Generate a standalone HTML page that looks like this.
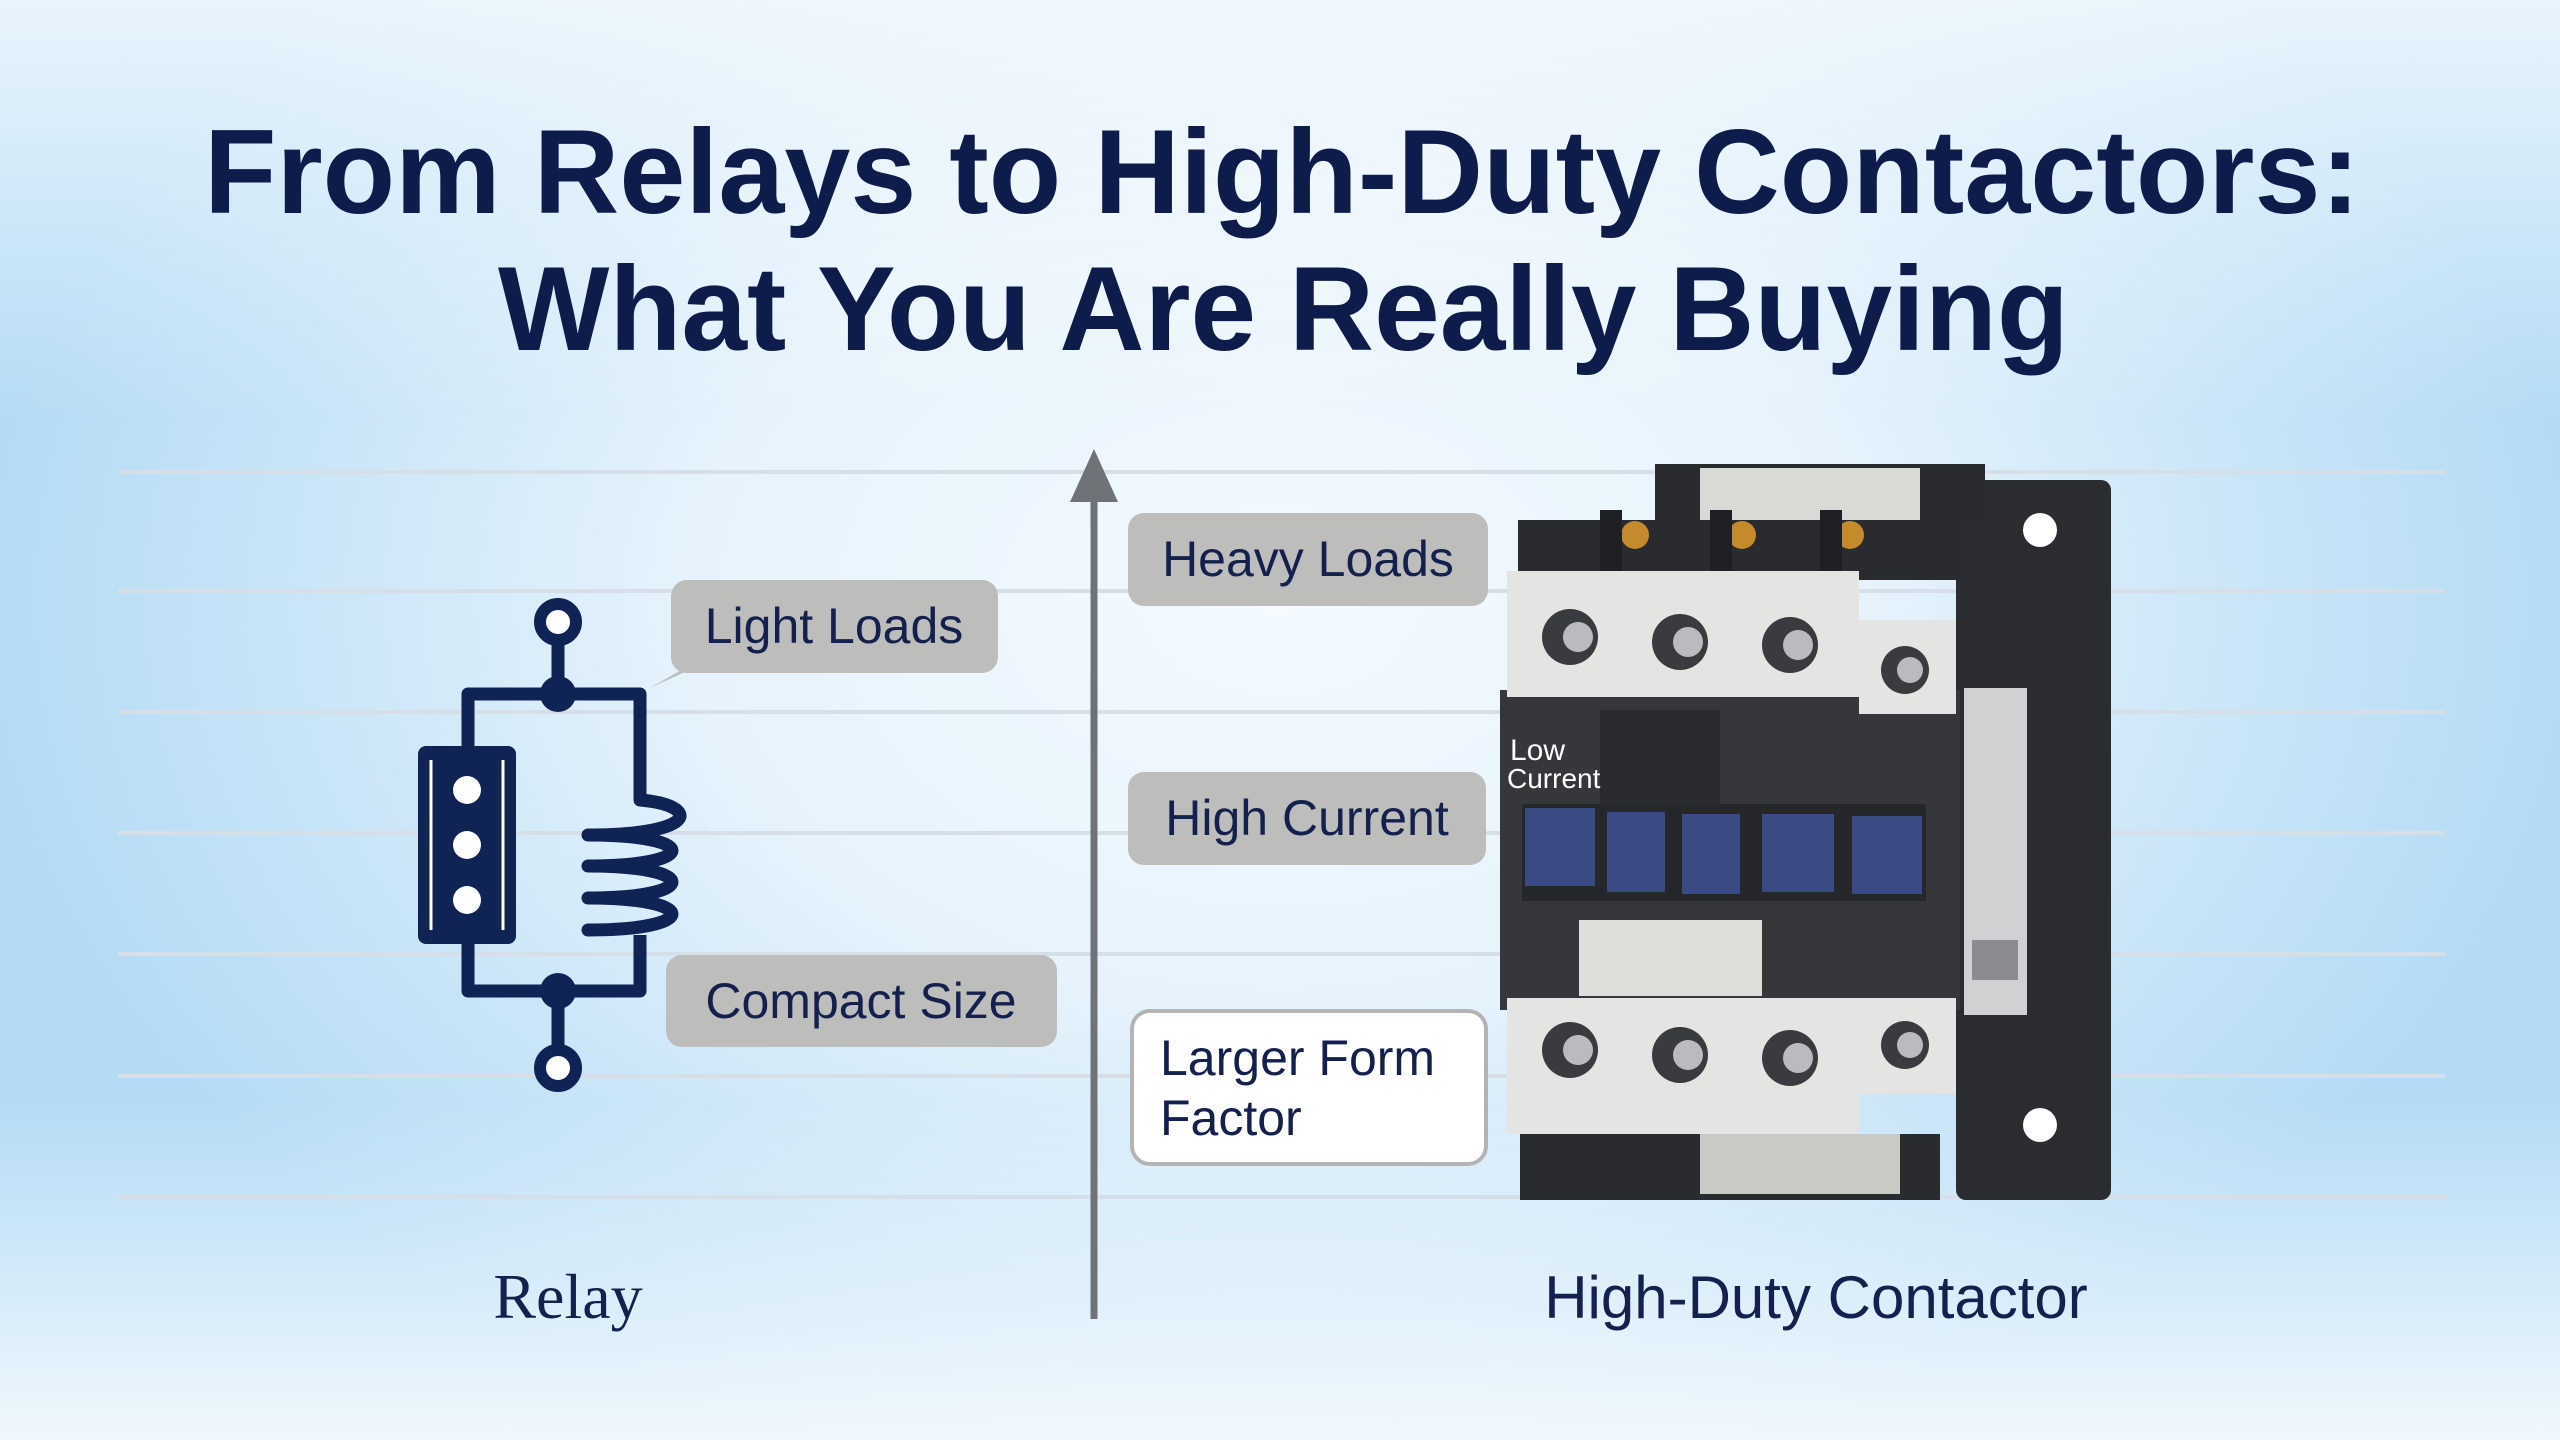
<!DOCTYPE html>
<html><head><meta charset="utf-8"><style>
html,body{margin:0;padding:0;width:2560px;height:1440px;overflow:hidden}
body{background:radial-gradient(ellipse 1300px 900px at 1280px 600px,#f4faff 0%,#e6f3fc 45%,#c5e3f7 80%,#b4dbf5 100%)}
svg{position:absolute;left:0;top:0}
</style></head><body>
<svg width="2560" height="1440" viewBox="0 0 2560 1440" xmlns="http://www.w3.org/2000/svg">
<defs>
<linearGradient id="tg" x1="0" y1="0" x2="0" y2="1"><stop offset="0" stop-color="#ffffff" stop-opacity="0.7"/><stop offset="1" stop-color="#ffffff" stop-opacity="0"/></linearGradient>
<linearGradient id="bg2" x1="0" y1="0" x2="0" y2="1"><stop offset="0" stop-color="#ffffff" stop-opacity="0"/><stop offset="1" stop-color="#ffffff" stop-opacity="0.8"/></linearGradient>
</defs>
<rect x="0" y="0" width="2560" height="420" fill="url(#tg)"/>
<rect x="0" y="1100" width="2560" height="340" fill="url(#bg2)"/>
<g font-family="Liberation Sans, sans-serif" font-weight="bold" fill="#0e1c4c" font-size="120">
<text x="204" y="213" textLength="2156" lengthAdjust="spacingAndGlyphs">From Relays to High-Duty Contactors:</text>
<text x="498" y="350" textLength="1571" lengthAdjust="spacingAndGlyphs">What You Are Really Buying</text>
</g>
<g stroke="#d6dfe8" stroke-width="4">
<line x1="118" y1="472" x2="2445" y2="472"/><line x1="118" y1="591" x2="2445" y2="591"/>
<line x1="118" y1="712" x2="2445" y2="712"/><line x1="118" y1="833" x2="2445" y2="833"/>
<line x1="118" y1="954" x2="2445" y2="954"/><line x1="118" y1="1076" x2="2445" y2="1076"/>
<line x1="118" y1="1197" x2="2445" y2="1197"/>
</g>
<line x1="1094" y1="1319" x2="1094" y2="490" stroke="#6f7378" stroke-width="7"/>
<polygon points="1094,449 1070,502 1118,502" fill="#6f7378"/>
<g stroke="#0f2354" stroke-width="13" fill="none" stroke-linejoin="round">
<line x1="558" y1="642" x2="558" y2="694"/>
<line x1="558" y1="991" x2="558" y2="1048"/>
<path d="M468,746 V694 H640 V800"/>
<path d="M468,944 V991 H640 V935"/>
<path d="M640,800 C700,805 700,835 588,835 C700,835 700,866 588,866 C700,866 700,898 588,898 C700,898 700,930 588,930" stroke-linecap="round"/>
</g>
<circle cx="558" cy="622" r="18" fill="#fff" stroke="#0f2354" stroke-width="12"/>
<circle cx="558" cy="1068" r="18" fill="#fff" stroke="#0f2354" stroke-width="12"/>
<circle cx="558" cy="694" r="18" fill="#0f2354"/>
<circle cx="558" cy="991" r="18" fill="#0f2354"/>
<rect x="418" y="746" width="98" height="198" rx="8" fill="#0f2354"/>
<line x1="431" y1="760" x2="431" y2="930" stroke="#fff" stroke-width="3"/>
<line x1="503" y1="760" x2="503" y2="930" stroke="#fff" stroke-width="3"/>
<circle cx="467" cy="790" r="14" fill="#fff"/><circle cx="467" cy="845" r="14" fill="#fff"/><circle cx="467" cy="900" r="14" fill="#fff"/>
<g font-family="Liberation Sans, sans-serif" font-size="50" fill="#14214f">
<path d="M690,665 L650,688 L700,665 Z" fill="#bdbdbb"/>
<rect x="671" y="580" width="327" height="93" rx="16" fill="#bdbdbb"/>
<text x="834" y="643" text-anchor="middle">Light Loads</text>
<rect x="666" y="955" width="391" height="92" rx="16" fill="#bdbdbb"/>
<text x="861" y="1018" text-anchor="middle">Compact Size</text>
<rect x="1128" y="513" width="360" height="93" rx="16" fill="#bdbdbb"/>
<text x="1308" y="576" text-anchor="middle">Heavy Loads</text>
<rect x="1128" y="772" width="358" height="93" rx="16" fill="#bdbdbb"/>
<text x="1307" y="835" text-anchor="middle">High Current</text>
<rect x="1132" y="1011" width="354" height="153" rx="18" fill="#fff" stroke="#b4b4b4" stroke-width="4"/>
<text x="1160" y="1075">Larger Form</text>
<text x="1160" y="1135">Factor</text>
</g>
<text x="568" y="1318" text-anchor="middle" font-family="Liberation Serif, serif" font-size="64" fill="#14214f">Relay</text>
<text x="1816" y="1318" text-anchor="middle" font-family="Liberation Sans, sans-serif" font-size="60" fill="#14214f">High-Duty Contactor</text>
<g>
<rect x="1956" y="480" width="155" height="720" rx="10" fill="#2b2c2f"/>
<circle cx="2040" cy="530" r="17" fill="#fff"/><circle cx="2040" cy="1125" r="17" fill="#fff"/>
<rect x="1655" y="464" width="330" height="60" fill="#2a2b2e"/>
<rect x="1700" y="468" width="220" height="110" fill="#d9d9d6"/>
<rect x="1518" y="520" width="440" height="60" fill="#2a2b2e"/>
<circle cx="1635" cy="535" r="14" fill="#c48a2c"/><circle cx="1742" cy="535" r="14" fill="#c48a2c"/><circle cx="1850" cy="535" r="14" fill="#c48a2c"/>
<g fill="#1f2023"><rect x="1600" y="510" width="22" height="70"/><rect x="1710" y="510" width="22" height="70"/><rect x="1820" y="510" width="22" height="70"/></g>
<rect x="1500" y="690" width="460" height="320" fill="#36373a"/>
<rect x="1507" y="571" width="352" height="126" fill="#e4e4e2"/>
<rect x="1859" y="620" width="97" height="94" fill="#e4e4e2"/>
<rect x="1507" y="998" width="352" height="136" fill="#e4e4e2"/>
<rect x="1859" y="998" width="97" height="96" fill="#e4e4e2"/>
<g fill="#3a3b3e"><circle cx="1570" cy="637" r="28"/><circle cx="1680" cy="642" r="28"/><circle cx="1790" cy="645" r="28"/><circle cx="1905" cy="670" r="24"/>
<circle cx="1570" cy="1050" r="28"/><circle cx="1680" cy="1055" r="28"/><circle cx="1790" cy="1058" r="28"/><circle cx="1905" cy="1045" r="24"/></g>
<g fill="#b9bbbe"><circle cx="1578" cy="637" r="15"/><circle cx="1688" cy="642" r="15"/><circle cx="1798" cy="645" r="15"/><circle cx="1910" cy="670" r="13"/>
<circle cx="1578" cy="1050" r="15"/><circle cx="1688" cy="1055" r="15"/><circle cx="1798" cy="1058" r="15"/><circle cx="1910" cy="1045" r="13"/></g>
<rect x="1600" y="710" width="120" height="100" fill="#2a2b2e"/>
<rect x="1522" y="804" width="404" height="97" fill="#26272a"/>
<rect x="1525" y="808" width="70" height="78" fill="#3a4a82"/><rect x="1607" y="812" width="58" height="80" fill="#3a4a82"/>
<rect x="1682" y="814" width="58" height="80" fill="#3a4a82"/><rect x="1762" y="814" width="72" height="78" fill="#3a4a82"/><rect x="1852" y="816" width="70" height="78" fill="#3a4a82"/>
<rect x="1579" y="920" width="183" height="76" fill="#dededb"/>
<rect x="1964" y="688" width="63" height="327" fill="#cfd1d3"/>
<rect x="1972" y="940" width="46" height="40" fill="#8a8c8f"/>
<rect x="1520" y="1134" width="420" height="66" fill="#2a2b2e"/>
<rect x="1700" y="1134" width="200" height="60" fill="#c9c9c6"/>
<text x="1510" y="760" font-family="Liberation Sans, sans-serif" font-size="30" fill="#fff">Low</text>
<text x="1507" y="788" font-family="Liberation Sans, sans-serif" font-size="28" fill="#fff">Current</text>
</g>
</svg>
</body></html>
